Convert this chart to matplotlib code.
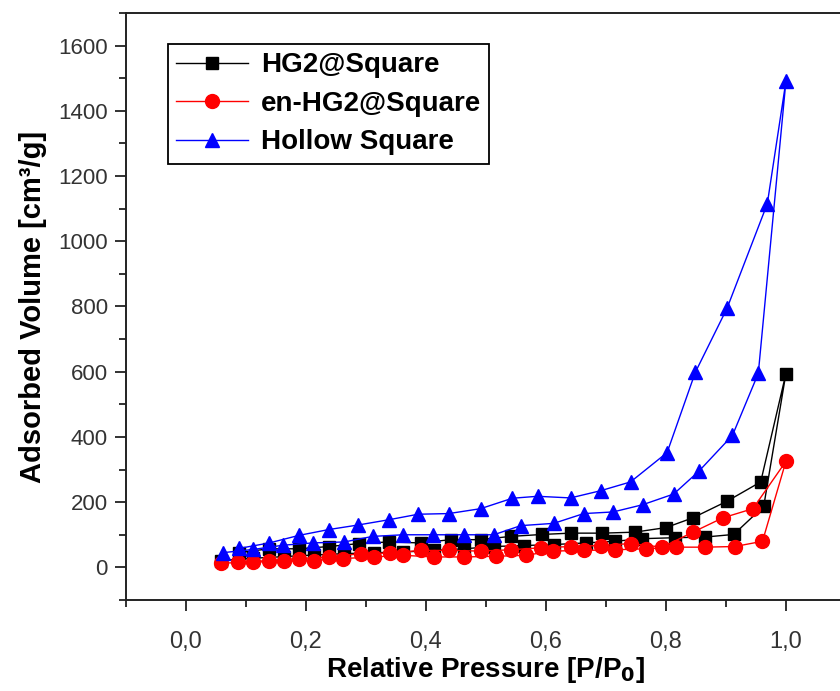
import matplotlib
matplotlib.use("Agg")
import matplotlib.pyplot as plt
from matplotlib.ticker import MultipleLocator, FuncFormatter

# --- data, adsorption then desorption ---
hg2_x = [0.058, 0.112, 0.163, 0.213, 0.263, 0.313, 0.361, 0.413, 0.463, 0.513,
         0.563, 0.613, 0.666, 0.715, 0.760, 0.815, 0.865, 0.913, 0.963, 1.000,
         0.958, 0.902, 0.845, 0.800, 0.748, 0.694, 0.641, 0.594, 0.541, 0.491,
         0.441, 0.391, 0.338, 0.288, 0.239, 0.188, 0.138, 0.088]
hg2_y = [21, 28, 33, 38, 42, 45, 47, 52, 57, 64,
         67, 70, 75, 80, 88, 91, 93, 101, 187, 594,
         262, 203, 152, 122, 108, 105, 105, 101, 95, 85,
         85, 75, 78, 73, 64, 57, 57, 45]

en_x = [0.059, 0.112, 0.163, 0.213, 0.261, 0.313, 0.362, 0.413, 0.463, 0.516,
        0.566, 0.611, 0.663, 0.715, 0.766, 0.816, 0.865, 0.915, 0.961, 1.000,
        0.945, 0.895, 0.845, 0.794, 0.741, 0.691, 0.641, 0.591, 0.541, 0.491,
        0.438, 0.391, 0.340, 0.291, 0.239, 0.188, 0.138, 0.087]
en_y = [13, 16, 19, 21, 27, 32, 37, 32, 32, 34,
        37, 50, 52, 54, 57, 62, 62, 64, 80, 325,
        180, 152, 108, 62, 73, 67, 64, 60, 54, 50,
        52, 52, 44, 42, 32, 27, 21, 16]

hollow_x = [0.061, 0.112, 0.162, 0.211, 0.264, 0.311, 0.362, 0.411, 0.463, 0.513,
            0.558, 0.613, 0.663, 0.712, 0.761, 0.813, 0.855, 0.911, 0.954, 1.000,
            0.969, 0.902, 0.849, 0.802, 0.741, 0.691, 0.641, 0.586, 0.544, 0.491,
            0.438, 0.387, 0.338, 0.287, 0.238, 0.188, 0.139, 0.088]
hollow_y = [45, 55, 68, 75, 78, 95, 100, 100, 100, 100,
            128, 135, 165, 170, 192, 225, 295, 405, 595, 1490,
            1115, 795, 598, 352, 262, 235, 213, 218, 212, 180,
            165, 163, 146, 130, 116, 98, 75, 58]

labels = ["HG2@Square", "en-HG2@Square", "Hollow Square"]

FAM = ["Liberation Sans", "DejaVu Sans"]

fig = plt.figure(figsize=(8.4, 6.91), dpi=100)
ax = fig.add_axes([0.15, 0.1317, 0.857, 0.8495])

ax.plot(hg2_x, hg2_y, color="black", lw=1.0, marker="s", ms=9, label=labels[0])
ax.plot(en_x, en_y, color="red", lw=1.0, marker="o", ms=10, label=labels[1])
ax.plot(hollow_x, hollow_y, color="blue", lw=1.0, marker="^", ms=10.5, label=labels[2])

ax.set_xlim(-0.1, 1.1)
ax.set_ylim(-100, 1700)

ax.xaxis.set_major_locator(MultipleLocator(0.2))
ax.xaxis.set_minor_locator(MultipleLocator(0.1))
ax.yaxis.set_major_locator(MultipleLocator(200))
ax.yaxis.set_minor_locator(MultipleLocator(100))
ax.xaxis.set_major_formatter(FuncFormatter(lambda v, p: ("%.1f" % v).replace(".", ",")))

ax.tick_params(which="major", direction="out", length=8, width=1.3, colors="#222222")
ax.tick_params(which="minor", direction="out", length=5, width=1.3, colors="#222222")
ax.tick_params(axis="x", which="major", pad=14, labelcolor="#333333")
ax.tick_params(axis="y", which="major", pad=5, labelcolor="#333333")
for t in ax.get_yticklabels():
    t.set_fontfamily(FAM)
    t.set_fontsize(16)
for t in ax.get_xticklabels():
    t.set_fontfamily(FAM)
    t.set_fontsize(17)

ax.spines["right"].set_visible(False)
for s in ["left", "bottom", "top"]:
    ax.spines[s].set_linewidth(1.4)
    ax.spines[s].set_color("#222222")

ax.set_xlabel(r"Relative Pressure [P/P$_\mathbf{0}$]", fontsize=20, fontweight="bold",
              family=FAM, labelpad=2)
ax.set_ylabel("Adsorbed Volume [cm³/g]", fontsize=21, fontweight="bold",
              family=FAM, labelpad=8)

leg = ax.legend(loc="upper left", bbox_to_anchor=(0.058, 0.947), borderaxespad=0,
                fancybox=False, framealpha=1, edgecolor="black",
                prop={"family": FAM, "weight": "bold", "size": 20},
                handlelength=2.6, handletextpad=0.45, labelspacing=0.45,
                borderpad=0.3)
leg.get_frame().set_linewidth(1.3)

fig.savefig("out.png", dpi=100)
